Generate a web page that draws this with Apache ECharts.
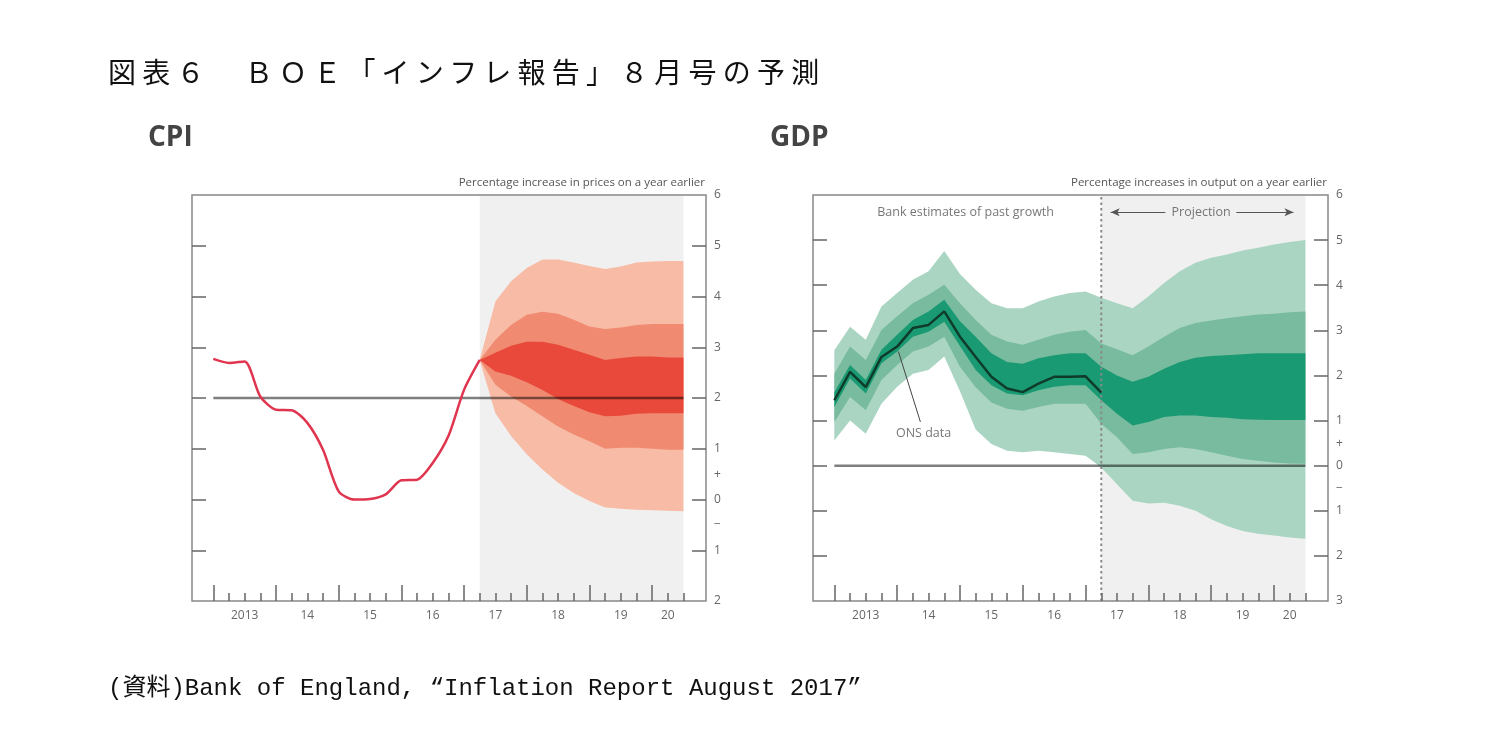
<!DOCTYPE html>
<html><head><meta charset="utf-8">
<script src="https://cdn.jsdelivr.net/npm/echarts@6/dist/echarts.min.js"></script>
<style>
html,body{margin:0;padding:0;background:#fff;}
#chart{position:absolute;left:0;top:0;width:1497px;height:741px;}
.title{position:absolute;left:108px;top:52px;font-family:"Noto Sans CJK JP";font-size:28px;letter-spacing:6.2px;color:#111;white-space:nowrap;line-height:38px;}
.src{position:absolute;left:108px;top:674px;font-family:"Liberation Mono","Noto Sans CJK JP";font-size:24px;color:#111;white-space:nowrap;line-height:30px;}
</style></head><body>
<div id="chart"></div>
<div class="title">図表６　ＢＯＥ「インフレ報告」８月号の予測</div>
<div class="src">(資料)Bank of England,  “Inflation Report August 2017”</div>
<script>
// ---------- data ----------
const histX = [2013.0, 2013.25, 2013.5, 2013.75, 2014.0, 2014.25, 2014.5, 2014.75, 2015.0, 2015.25, 2015.5, 2015.75, 2016.0, 2016.25, 2016.5, 2016.75, 2017.0, 2017.25];
const projX = [2017.25, 2017.5, 2017.75, 2018.0, 2018.25, 2018.5, 2018.75, 2019.0, 2019.25, 2019.5, 2019.75, 2020.0, 2020.25, 2020.5];

const cpiHist = [2.77, 2.69, 2.72, 2.03, 1.77, 1.76, 1.51, 0.98, 0.16, 0.0, 0.01, 0.1, 0.38, 0.39, 0.72, 1.25, 2.16, 2.75];
const cpiOuterUp = [2.75, 3.9, 4.3, 4.56, 4.73, 4.73, 4.67, 4.6, 4.54, 4.59, 4.67, 4.69, 4.7, 4.7];
const cpiMidUp   = [2.75, 3.15, 3.44, 3.64, 3.70, 3.66, 3.54, 3.41, 3.36, 3.39, 3.44, 3.46, 3.46, 3.46];
const cpiInUp    = [2.75, 2.89, 3.03, 3.11, 3.11, 3.05, 2.95, 2.85, 2.75, 2.79, 2.82, 2.82, 2.80, 2.80];
const cpiInLo    = [2.75, 2.52, 2.44, 2.31, 2.16, 1.98, 1.84, 1.72, 1.64, 1.65, 1.69, 1.70, 1.70, 1.70];
const cpiMidLo   = [2.75, 2.26, 2.03, 1.84, 1.64, 1.44, 1.28, 1.15, 1.0, 1.02, 1.02, 1.0, 0.98, 0.98];
const cpiOuterLo = [2.75, 1.70, 1.25, 0.89, 0.59, 0.33, 0.13, -0.03, -0.16, -0.18, -0.2, -0.21, -0.22, -0.23];

const gdpOns = [1.45, 2.08, 1.74, 2.41, 2.64, 3.05, 3.12, 3.42, 2.86, 2.41, 1.97, 1.71, 1.63, 1.82, 1.97, 1.97, 1.98, 1.62];
const gdpFanX = histX.concat(projX.slice(1));
const gdpOuterUp = [2.56, 3.08, 2.79, 3.53, 3.83, 4.12, 4.31, 4.76, 4.25, 3.9, 3.6, 3.49, 3.49, 3.64, 3.75, 3.83, 3.86, 3.72, 3.6, 3.49, 3.75, 4.05, 4.31, 4.5, 4.61, 4.68, 4.77, 4.83, 4.9, 4.96, 5.0];
const gdpMidUp   = [2.04, 2.64, 2.34, 3.01, 3.31, 3.6, 3.79, 4.01, 3.6, 3.23, 2.9, 2.75, 2.68, 2.79, 2.9, 2.97, 3.01, 2.71, 2.58, 2.45, 2.64, 2.86, 3.05, 3.16, 3.22, 3.27, 3.31, 3.35, 3.37, 3.40, 3.42];
const gdpInUp    = [1.63, 2.23, 1.9, 2.57, 2.9, 3.23, 3.42, 3.68, 3.2, 2.86, 2.49, 2.3, 2.26, 2.38, 2.45, 2.49, 2.49, 2.19, 2.0, 1.86, 1.97, 2.15, 2.3, 2.39, 2.43, 2.45, 2.47, 2.49, 2.49, 2.49, 2.49];
const gdpInLo    = [1.3, 1.93, 1.6, 2.27, 2.53, 2.86, 2.97, 3.19, 2.65, 2.12, 1.78, 1.6, 1.56, 1.67, 1.75, 1.78, 1.78, 1.45, 1.15, 0.89, 0.97, 1.08, 1.11, 1.11, 1.08, 1.06, 1.03, 1.02, 1.01, 1.01, 1.01];
const gdpMidLo   = [0.97, 1.52, 1.23, 1.9, 2.23, 2.53, 2.64, 2.86, 2.19, 1.74, 1.4, 1.26, 1.22, 1.3, 1.37, 1.37, 1.37, 0.93, 0.63, 0.26, 0.3, 0.37, 0.41, 0.37, 0.3, 0.22, 0.15, 0.11, 0.07, 0.05, 0.04];
const gdpOuterLo = [0.56, 1.0, 0.71, 1.375, 1.75, 2.04, 2.12, 2.42, 1.65, 0.8, 0.48, 0.33, 0.3, 0.33, 0.3, 0.26, 0.22, -0.04, -0.41, -0.78, -0.84, -0.82, -0.89, -1.0, -1.19, -1.34, -1.45, -1.51, -1.55, -1.59, -1.62];

// axis ticks & labels
const xRange = [2012.66, 2020.86];
const yearTicks = [2013, 2014, 2015, 2016, 2017, 2018, 2019, 2020];
const quarterTicks = [2013.25, 2013.5, 2013.75, 2014.25, 2014.5, 2014.75, 2015.25, 2015.5, 2015.75, 2016.25, 2016.5, 2016.75, 2017.25, 2017.5, 2017.75, 2018.25, 2018.5, 2018.75, 2019.25, 2019.5, 2019.75, 2020.25, 2020.5];
const xLabelPos = [2013.5, 2014.5, 2015.5, 2016.5, 2017.5, 2018.5, 2019.5, 2020.25];
const xLabels = ['2013', '14', '15', '16', '17', '18', '19', '20'];

const cpiYRange = [-2, 6];
const cpiYTicks = [-1, 0, 1, 2, 3, 4, 5];
const cpiYLabelPos = [-2, -1, -0.5, 0, 0.5, 1, 2, 3, 4, 5, 6];
const cpiYLabels = ['2', '1', '−', '0', '+', '1', '2', '3', '4', '5', '6'];

const gdpYRange = [-3, 6];
const gdpYTicks = [-2, -1, 0, 1, 2, 3, 4, 5];
const gdpYLabelPos = [-3, -2, -1, -0.5, 0, 0.5, 1, 2, 3, 4, 5, 6];
const gdpYLabels = ['3', '2', '1', '−', '0', '+', '1', '2', '3', '4', '5', '6'];

const shadeRange = [2017.25, 2020.5];
const cpiTarget = 2, cpiTargetRange = [2013.0, 2020.5];
const gdpZero = 0, gdpZeroRange = [2013.0, 2020.5];
const gdpDivider = 2017.25;

// ---------- styling ----------
const FONT = 'Open Sans';
const cpiColors = ['#f8bca6', '#f08b72', '#e8493b'];
const gdpColors = ['#aad5c2', '#78bb9e', '#1a9a72'];

function pairs(xs, ys) { return xs.map((x, i) => [x, ys[i]]); }

function fanRender(xs, bands, colors) {
  return function (params, api) {
    const b = bands[params.dataIndex];
    const pts = [];
    for (let i = 0; i < xs.length; i++) pts.push(api.coord([xs[i], b[0][i]]));
    for (let i = xs.length - 1; i >= 0; i--) pts.push(api.coord([xs[i], b[1][i]]));
    return { type: 'polygon', shape: { points: pts }, style: { fill: colors[params.dataIndex] }, silent: true };
  };
}
function shadeRender(yr) {
  return function (params, api) {
    const p0 = api.coord([shadeRange[0], yr[1]]);
    const p1 = api.coord([shadeRange[1], yr[0]]);
    return { type: 'rect', shape: { x: p0[0], y: p0[1], width: p1[0] - p0[0], height: p1[1] - p0[1] }, style: { fill: '#f0f0f0' }, silent: true };
  };
}

function xAxes(gridIndex) {
  return [
    { type: 'value', gridIndex, z: 10, min: xRange[0], max: xRange[1], position: 'bottom',
      axisLine: { show: false, onZero: false }, splitLine: { show: false },
      axisTick: { show: true, inside: true, length: 16, customValues: yearTicks, lineStyle: { color: '#666', width: 1.5 } },
      axisLabel: { show: true, customValues: xLabelPos, margin: 9, fontSize: 12, color: '#666', fontFamily: FONT,
        formatter: v => { const i = xLabelPos.findIndex(p => Math.abs(p - v) < 1e-6); return i >= 0 ? xLabels[i] : ''; } } },
    { type: 'value', gridIndex, z: 10, min: xRange[0], max: xRange[1], position: 'bottom',
      axisLine: { show: false, onZero: false }, splitLine: { show: false },
      axisTick: { show: true, inside: true, length: 8, customValues: quarterTicks, lineStyle: { color: '#666', width: 1.5 } },
      axisLabel: { show: false } }
  ];
}
function yAxes(gridIndex, yr, ticks, labelPos, labels) {
  return [
    { type: 'value', gridIndex, z: 10, min: yr[0], max: yr[1], interval: 1, position: 'left',
      axisLine: { show: false, onZero: false }, splitLine: { show: false },
      axisTick: { show: true, inside: true, length: 14, customValues: ticks, lineStyle: { color: '#666', width: 1.5 } },
      axisLabel: { show: false } },
    { type: 'value', gridIndex, z: 10, min: yr[0], max: yr[1], interval: 1, position: 'right',
      axisLine: { show: false, onZero: false }, splitLine: { show: false },
      axisTick: { show: true, inside: true, length: 14, customValues: ticks, lineStyle: { color: '#666', width: 1.5 } },
      axisLabel: { show: true, customValues: labelPos, margin: 8, fontSize: 12, color: '#666', fontFamily: FONT,
        formatter: v => { const i = labelPos.findIndex(p => Math.abs(p - v) < 1e-6); return i >= 0 ? labels[i] : ''; } } }
  ];
}

const chart = echarts.init(document.getElementById('chart'), null, { renderer: 'canvas' });

const option = {
  animation: false,
  backgroundColor: 'transparent',
  grid: [
    { left: 192, top: 195, width: 514, height: 406, show: true, z: 9, borderColor: '#888', borderWidth: 1.5, backgroundColor: 'transparent' },
    { left: 813, top: 195, width: 515, height: 406, show: true, z: 9, borderColor: '#888', borderWidth: 1.5, backgroundColor: 'transparent' }
  ],
  xAxis: xAxes(0).concat(xAxes(1)),
  yAxis: yAxes(0, cpiYRange, cpiYTicks, cpiYLabelPos, cpiYLabels).concat(yAxes(1, gdpYRange, gdpYTicks, gdpYLabelPos, gdpYLabels)),
  graphic: [
    { type: 'text', x: 148, y: 138, style: { text: 'CPI', fontSize: 28, fontWeight: 'bold', fill: '#444', fontFamily: FONT, verticalAlign: 'middle' } },
    { type: 'text', x: 770, y: 138, style: { text: 'GDP', fontSize: 28, fontWeight: 'bold', fill: '#444', fontFamily: FONT, verticalAlign: 'middle' } },
    { type: 'text', x: 705, y: 183, style: { text: 'Percentage increase in prices on a year earlier', fontSize: 11.5, fill: '#555', fontFamily: FONT, align: 'right', verticalAlign: 'middle' } },
    { type: 'text', x: 1327, y: 183, style: { text: 'Percentage increases in output on a year earlier', fontSize: 11.5, fill: '#555', fontFamily: FONT, align: 'right', verticalAlign: 'middle' } }
  ],
  series: [
    // ---- CPI ----
    { type: 'custom', xAxisIndex: 0, yAxisIndex: 0, z: 1, data: [0], renderItem: shadeRender(cpiYRange) },
    { type: 'custom', xAxisIndex: 0, yAxisIndex: 0, z: 2, data: [0, 1, 2],
      renderItem: fanRender(projX, [[cpiOuterUp, cpiOuterLo], [cpiMidUp, cpiMidLo], [cpiInUp, cpiInLo]], cpiColors) },
    { type: 'line', xAxisIndex: 0, yAxisIndex: 0, z: 4, symbol: 'none', silent: true,
      data: [[cpiTargetRange[0], cpiTarget], [cpiTargetRange[1], cpiTarget]],
      lineStyle: { color: 'rgba(0,0,0,0.5)', width: 2.5 } },
    { type: 'line', xAxisIndex: 0, yAxisIndex: 0, z: 5, symbol: 'none', silent: true, smooth: 0.25,
      data: pairs(histX, cpiHist), lineStyle: { color: '#e0354f', width: 2.5 } },
    // ---- GDP ----
    { type: 'custom', xAxisIndex: 2, yAxisIndex: 2, z: 1, data: [0], renderItem: shadeRender(gdpYRange) },
    { type: 'custom', xAxisIndex: 2, yAxisIndex: 2, z: 2, data: [0, 1, 2],
      renderItem: fanRender(gdpFanX, [[gdpOuterUp, gdpOuterLo], [gdpMidUp, gdpMidLo], [gdpInUp, gdpInLo]], gdpColors) },
    { type: 'line', xAxisIndex: 2, yAxisIndex: 2, z: 4, symbol: 'none', silent: true,
      data: [[gdpZeroRange[0], gdpZero], [gdpZeroRange[1], gdpZero]],
      lineStyle: { color: 'rgba(0,0,0,0.5)', width: 2.5 } },
    { type: 'line', xAxisIndex: 2, yAxisIndex: 2, z: 4, symbol: 'none', silent: true,
      data: [[gdpDivider, gdpYRange[0]], [gdpDivider, gdpYRange[1]]],
      lineStyle: { color: '#8a8a8a', width: 2, type: [2.5, 3] } },
    { type: 'line', xAxisIndex: 2, yAxisIndex: 2, z: 6, symbol: 'none', silent: true,
      data: [[2014.02, 2.53], [2014.37, 0.97]], lineStyle: { color: '#444', width: 1 } },
    { type: 'line', xAxisIndex: 2, yAxisIndex: 2, z: 5, symbol: 'none', silent: true,
      data: pairs(histX, gdpOns), lineStyle: { color: '#0f3b2a', width: 2.5 },
      markLine: { silent: true, symbol: ['none', 'none'], animation: false,
        lineStyle: { color: '#555', width: 1, type: 'solid' }, label: { show: false },
        data: [
          [{ coord: [2017.4, 5.62], symbol: 'arrow', symbolSize: [6, 9] }, { coord: [2018.27, 5.62], symbol: 'none' }],
          [{ coord: [2019.4, 5.62], symbol: 'none' }, { coord: [2020.31, 5.62], symbol: 'arrow', symbolSize: [6, 9] }]
        ] } },
    { type: 'scatter', xAxisIndex: 2, yAxisIndex: 2, z: 7, symbolSize: 0, silent: true,
      label: { show: true, position: 'inside', color: '#555', fontSize: 12.5, fontFamily: FONT, formatter: p => p.data.name },
      data: [
        { name: 'Bank estimates of past growth', value: [2015.09, 5.62] },
        { name: 'Projection', value: [2018.84, 5.62] },
        { name: 'ONS data', value: [2014.42, 0.72] }
      ] }
  ]
};
chart.setOption(option);
</script>
</body></html>
